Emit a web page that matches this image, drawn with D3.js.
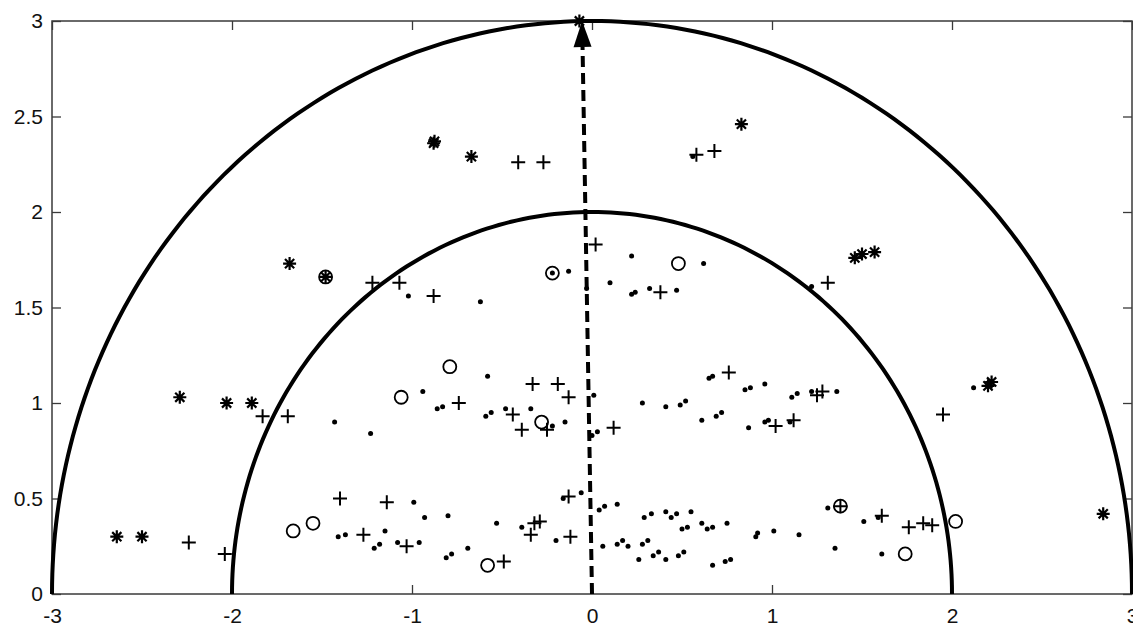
<!DOCTYPE html>
<html>
<head>
<meta charset="utf-8">
<script src="https://cdn.jsdelivr.net/npm/d3@7"></script>
<style>
  html, body { margin: 0; padding: 0; background: #fff; }
  svg { display: block; font-family: "Liberation Sans", Arial, sans-serif; }
</style>
</head>
<body>
<svg id="chart" width="1133" height="626"></svg>
<script>
// ticks
const xTicks = [-3, -2, -1, 0, 1, 2, 3];
const xTickLabels = ["-3", "-2", "-1", "0", "1", "2", "3"];
const yTicks = [0, 0.5, 1, 1.5, 2, 2.5, 3];
const yTickLabels = ["0", "0.5", "1", "1.5", "2", "2.5", "3"];

// circle radii and the arrow
const radii = [2, 3];
const arrowFrom = [0, 0];
const arrowTo = [-0.055, 3];

// marker series
const stars = [
  [-0.07, 3.0], [0.83, 2.46], [-0.88, 2.36], [-0.875, 2.37], [-0.67, 2.29],
  [-1.68, 1.73], [-1.48, 1.66], [1.46, 1.76], [1.50, 1.78], [1.57, 1.79],
  [-2.29, 1.03], [-2.03, 1.0], [-1.89, 1.0], [2.20, 1.09], [2.22, 1.11],
  [-2.64, 0.30], [-2.50, 0.30], [2.84, 0.42]
];
const pluses = [
  [-0.41, 2.26], [-0.27, 2.26], [0.58, 2.30], [0.68, 2.32], [-1.22, 1.63],
  [-1.07, 1.63], [-0.88, 1.56], [0.02, 1.83], [0.38, 1.58], [1.31, 1.63],
  [-1.83, 0.93], [-1.69, 0.93], [-0.74, 1.0], [-0.33, 1.10], [-0.19, 1.10],
  [-0.13, 1.03], [-0.44, 0.94], [-0.39, 0.86], [-0.25, 0.86], [0.12, 0.87],
  [0.76, 1.16], [1.02, 0.88], [1.12, 0.91], [1.25, 1.04], [1.28, 1.06],
  [1.95, 0.94], [-2.24, 0.27], [-2.04, 0.21], [-1.40, 0.50], [-1.14, 0.48],
  [-1.27, 0.31], [-1.03, 0.25], [-0.49, 0.17], [-0.13, 0.51], [-0.34, 0.31],
  [-0.32, 0.37], [-0.29, 0.38], [-0.12, 0.30], [1.38, 0.46], [1.61, 0.41],
  [1.76, 0.35], [1.84, 0.37], [1.89, 0.36]
];
const circles = [
  [-1.48, 1.66], [-0.22, 1.68], [0.48, 1.73], [-1.06, 1.03], [-0.79, 1.19],
  [-0.28, 0.90], [-1.66, 0.33], [-1.55, 0.37], [-0.58, 0.15], [1.38, 0.46],
  [1.74, 0.21], [2.02, 0.38]
];
const dots = [
  [-1.02, 1.56], [-0.62, 1.53], [-0.13, 1.69], [-0.22, 1.68], [-0.03, 1.60],
  [0.22, 1.77], [0.62, 1.73], [0.10, 1.63], [0.22, 1.57], [0.24, 1.58],
  [0.32, 1.60], [0.47, 1.59], [0.56, 2.29], [1.22, 1.61],
  [-1.43, 0.90], [-1.23, 0.84], [-0.94, 1.06], [-0.86, 0.97], [-0.83, 0.98],
  [-0.58, 1.14], [-0.59, 0.93], [-0.56, 0.95], [-0.48, 0.97], [-0.34, 0.97],
  [-0.22, 0.88], [-0.15, 0.90], [0.01, 1.04], [0.03, 0.85], [0.00, 0.83],
  [0.28, 1.0], [0.41, 0.98], [0.49, 0.99], [0.52, 1.01], [0.65, 1.13],
  [0.67, 1.14], [0.61, 0.91], [0.69, 0.93], [0.72, 0.95], [0.85, 1.07],
  [0.88, 1.08], [0.96, 1.10], [0.87, 0.87], [0.96, 0.90], [0.98, 0.91],
  [1.10, 0.90], [1.11, 1.03], [1.14, 1.05], [1.22, 1.06], [1.36, 1.06],
  [2.12, 1.08],
  [-0.99, 0.48], [-0.93, 0.40], [-0.80, 0.41], [-0.53, 0.37], [-1.41, 0.30],
  [-1.37, 0.31], [-1.15, 0.33], [-1.21, 0.24], [-1.18, 0.26], [-1.08, 0.27],
  [-0.96, 0.27], [-0.81, 0.19], [-0.78, 0.21], [-0.69, 0.24], [-0.16, 0.50],
  [-0.06, 0.53], [-0.39, 0.35], [-0.20, 0.28], [0.04, 0.44], [0.07, 0.46],
  [0.14, 0.47], [0.06, 0.25], [0.14, 0.26], [0.17, 0.28], [0.20, 0.25],
  [0.28, 0.26], [0.31, 0.28], [0.29, 0.40], [0.33, 0.42], [0.41, 0.43],
  [0.44, 0.40], [0.47, 0.42], [0.55, 0.43], [0.50, 0.34], [0.53, 0.35],
  [0.61, 0.37], [0.64, 0.34], [0.67, 0.35], [0.75, 0.37], [0.26, 0.18],
  [0.34, 0.20], [0.37, 0.22], [0.41, 0.18], [0.48, 0.20], [0.51, 0.22],
  [0.67, 0.15], [0.74, 0.17], [0.77, 0.18], [0.91, 0.30], [0.92, 0.32],
  [1.01, 0.33], [1.15, 0.31], [1.31, 0.45], [1.51, 0.38], [1.59, 0.40],
  [1.35, 0.24], [1.61, 0.21]
];

const W = 1133, H = 626;
const m = { top: 21, right: 1, bottom: 32, left: 52 };
const iw = W - m.left - m.right;
const ih = H - m.top - m.bottom;

const svg = d3.select("#chart");
const g = svg.append("g").attr("transform", `translate(${m.left}, ${m.top})`);

const x = d3.scaleLinear().domain([-3, 3]).range([0, iw]);
const y = d3.scaleLinear().domain([0, 3]).range([ih, 0]);

// frame + inward ticks on all sides
g.append("rect")
  .attr("width", iw).attr("height", ih)
  .attr("fill", "none").attr("stroke", "#3a3a3a").attr("stroke-width", 1.5);

function styleAxis(sel) {
  sel.select(".domain").remove();
  sel.selectAll(".tick line").attr("stroke", "#3a3a3a").attr("stroke-width", 1.3);
  sel.selectAll(".tick text").attr("fill", "#111").attr("font-size", "21px");
}

g.append("g").attr("transform", `translate(0, ${ih})`)
  .call(d3.axisBottom(x).tickValues(xTicks).tickSize(-9).tickPadding(14)
    .tickFormat((d, i) => xTickLabels[i]))
  .call(styleAxis);
g.append("g")
  .call(d3.axisTop(x).tickValues(xTicks).tickSize(-9).tickFormat(""))
  .call(styleAxis);
g.append("g")
  .call(d3.axisLeft(y).tickValues(yTicks).tickSize(-9).tickPadding(9)
    .tickFormat((d, i) => yTickLabels[i]))
  .call(styleAxis);
g.append("g").attr("transform", `translate(${iw}, 0)`)
  .call(d3.axisRight(y).tickValues(yTicks).tickSize(-9).tickFormat(""))
  .call(styleAxis);

// semicircles
const line = d3.line().x(d => x(d[0])).y(d => y(d[1]));
radii.forEach(r => {
  const pts = d3.range(0, 181).map(a => {
    const t = a * Math.PI / 180;
    return [r * Math.cos(t), r * Math.sin(t)];
  });
  g.append("path").datum(pts).attr("d", line)
    .attr("fill", "none").attr("stroke", "#000").attr("stroke-width", 4);
});

// dashed arrow
const x0 = x(arrowFrom[0]), y0 = y(arrowFrom[1]);
const x1 = x(arrowTo[0]), y1 = y(arrowTo[1]);
const len = Math.hypot(x1 - x0, y1 - y0);
const ux = (x1 - x0) / len, uy = (y1 - y0) / len;
const headL = 26, headW = 9;
const bx = x1 - ux * headL, by = y1 - uy * headL;
g.append("line")
  .attr("x1", x0).attr("y1", y0).attr("x2", bx).attr("y2", by)
  .attr("stroke", "#000").attr("stroke-width", 4).attr("stroke-dasharray", "11,6");
g.append("path")
  .attr("d", `M${x1},${y1}L${bx - uy * headW},${by + ux * headW}L${bx + uy * headW},${by - ux * headW}Z`)
  .attr("fill", "#000");

// markers
const mk = g.append("g").attr("stroke", "#000").attr("fill", "none");

mk.selectAll(".dot").data(dots).join("circle").attr("class", "dot")
  .attr("cx", d => x(d[0])).attr("cy", d => y(d[1])).attr("r", 2.5)
  .attr("fill", "#000").attr("stroke", "none");

mk.selectAll(".circ").data(circles).join("circle").attr("class", "circ")
  .attr("cx", d => x(d[0])).attr("cy", d => y(d[1])).attr("r", 6.5)
  .attr("stroke-width", 1.8);

const plusPath = "M-7,0H7M0,-7V7";
mk.selectAll(".plus").data(pluses).join("path").attr("class", "plus")
  .attr("transform", d => `translate(${x(d[0])},${y(d[1])})`)
  .attr("d", plusPath).attr("stroke-width", 2);

const s = 6.5, sd = 4.6;
const starPath = `M-${s},0H${s}M0,-${s}V${s}M-${sd},-${sd}L${sd},${sd}M-${sd},${sd}L${sd},-${sd}`;
mk.selectAll(".star").data(stars).join("path").attr("class", "star")
  .attr("transform", d => `translate(${x(d[0])},${y(d[1])})`)
  .attr("d", starPath).attr("stroke-width", 2.2);
</script>
</body>
</html>
